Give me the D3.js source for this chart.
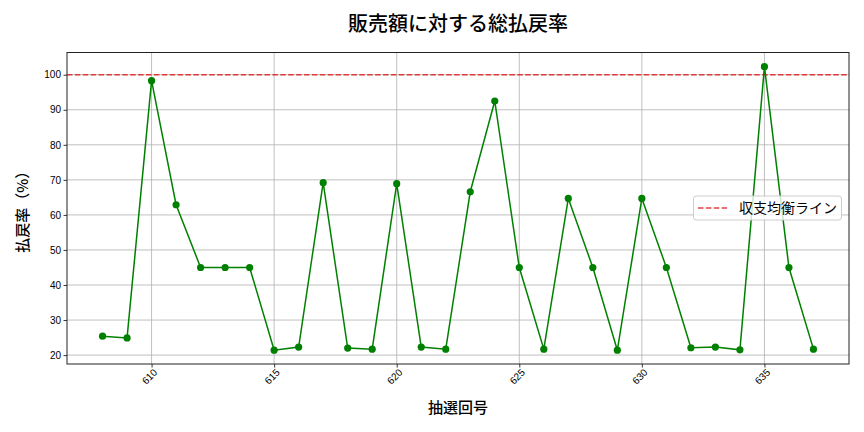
<!DOCTYPE html>
<html><head><meta charset="utf-8">
<script src="https://cdn.jsdelivr.net/npm/d3@7"></script>
<style>body{margin:0;background:#fff}svg{display:block;font-family:"Noto Sans CJK JP","Noto Sans",sans-serif}</style>
</head><body><svg id="c" width="864" height="432"></svg>
<script>
const draws = [608,609,610,611,612,613,614,615,616,617,618,619,620,621,622,623,624,625,626,627,628,629,630,631,632,633,634,635,636,637];
const payoutRate = [25.4,24.9,98.3,62.9,45.0,45.0,45.0,21.4,22.3,69.2,22.0,21.7,68.9,22.3,21.7,66.6,92.5,45.0,21.7,64.7,45.0,21.4,64.7,45.0,22.1,22.3,21.5,102.3,45.0,21.7];
const breakEven = 100;
const xTicks = [610,615,620,625,630,635];
const yTicks = [20,30,40,50,60,70,80,90,100];
const title = "販売額に対する総払戻率";
const xLabel = "抽選回号";
const yLabel = "払戻率（%）";
const legendLabel = "収支均衡ライン";

const svg = d3.select("#c");
const L=67,R=849,T=52.5,B=364;
const x = d3.scaleLinear().domain([606.55,638.45]).range([L,R]);
const y = d3.scaleLinear().domain([17.46,106.34]).range([B,T]);

// grid
svg.append("g").selectAll("line").data(xTicks).join("line")
 .attr("x1",d=>x(d)).attr("x2",d=>x(d)).attr("y1",T).attr("y2",B)
 .attr("stroke","#b0b0b0").attr("stroke-width",0.8);
svg.append("g").selectAll("line").data(yTicks).join("line")
 .attr("x1",L).attr("x2",R).attr("y1",d=>y(d)).attr("y2",d=>y(d))
 .attr("stroke","#b0b0b0").attr("stroke-width",0.8);

// axes
const xa = svg.append("g").attr("transform",`translate(0,${B})`)
 .call(d3.axisBottom(x).tickValues(xTicks).tickSize(3.5).tickFormat(d3.format("d")));
xa.selectAll("text").attr("font-size",10).attr("fill","#000")
 .attr("text-anchor","middle").attr("dy",0).attr("y",0)
 .attr("transform","translate(0,15) rotate(-45)");
const ya = svg.append("g").attr("transform",`translate(${L},0)`)
 .call(d3.axisLeft(y).tickValues(yTicks).tickSize(3.5));
ya.selectAll("text").attr("font-size",10).attr("fill","#000").attr("x",-6);
[xa,ya].forEach(a=>{a.select(".domain").remove();a.selectAll("line").attr("stroke","#000").attr("stroke-width",0.8);});

// break-even line
svg.append("line").attr("x1",L).attr("x2",R).attr("y1",y(breakEven)).attr("y2",y(breakEven))
 .attr("stroke","#e02020").attr("stroke-opacity",0.85).attr("stroke-width",1.5).attr("stroke-dasharray","5.5,2.4");

// data line
const pts = draws.map((d,i)=>[d,payoutRate[i]]);
svg.append("path").datum(pts).attr("fill","none").attr("stroke","green").attr("stroke-width",1.5)
 .attr("d",d3.line().x(d=>x(d[0])).y(d=>y(d[1])));
svg.append("g").selectAll("circle").data(pts).join("circle")
 .attr("cx",d=>x(d[0])).attr("cy",d=>y(d[1])).attr("r",3.6).attr("fill","green");

// frame
svg.append("rect").attr("x",L).attr("y",T).attr("width",R-L).attr("height",B-T)
 .attr("fill","none").attr("stroke","#222").attr("stroke-width",1);

// title & labels
svg.append("text").attr("x",(L+R)/2).attr("y",31).attr("text-anchor","middle")
 .attr("font-size",20).attr("font-weight",500).attr("fill","#000").text(title);
svg.append("text").attr("x",(L+R)/2).attr("y",413).attr("text-anchor","middle")
 .attr("font-size",15).attr("font-weight",500).attr("fill","#000").text(xLabel);
svg.append("text").attr("transform",`translate(28,${(T+B)/2}) rotate(-90)`).attr("text-anchor","middle")
 .attr("font-size",15).attr("font-weight",500).attr("fill","#000").text(yLabel);

// legend
const lg = svg.append("g");
lg.append("rect").attr("x",693.5).attr("y",196).attr("width",148).attr("height",24).attr("rx",3)
 .attr("fill","#fff").attr("fill-opacity",0.8).attr("stroke","#ccc");
lg.append("line").attr("x1",698).attr("x2",727).attr("y1",208).attr("y2",208)
 .attr("stroke","#e02020").attr("stroke-opacity",0.85).attr("stroke-width",1.5).attr("stroke-dasharray","5.5,2.4");
lg.append("text").attr("x",739).attr("y",213).attr("font-size",14).attr("fill","#000").text(legendLabel);
</script></body></html>
